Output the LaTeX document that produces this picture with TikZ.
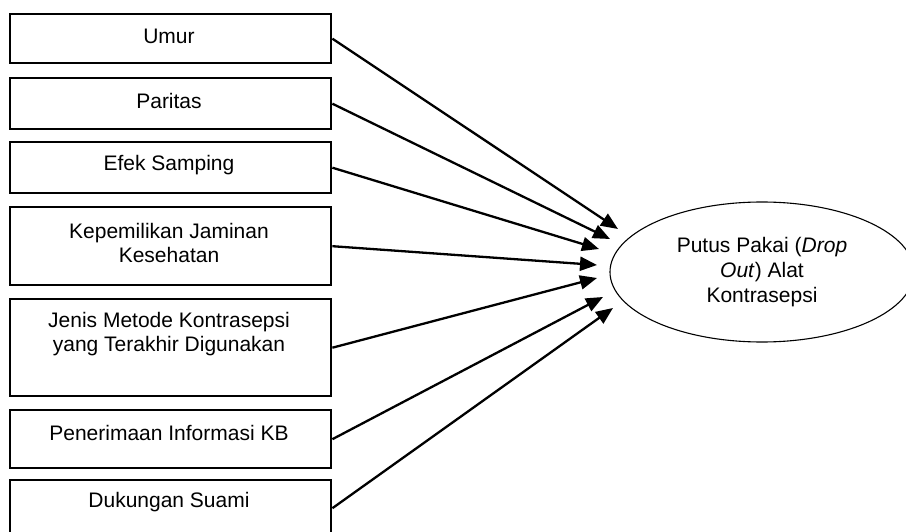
\documentclass[tikz,border=0pt]{standalone}
\usepackage{fontspec}
\setmainfont{Liberation Sans}
\usetikzlibrary{shapes.geometric,arrows.meta}
\begin{document}
\begin{tikzpicture}[x=1pt,y=-1pt,
  varbox/.style={draw,line width=2.4pt,rectangle,minimum width=321pt,inner sep=0pt,anchor=north west},
  lbl/.style={font=\fontsize{21}{24}\selectfont,align=center,inner sep=0pt},
  conn/.style={line width=2.3pt,-{Triangle[length=17pt,width=14pt]}},
  outcome/.style={draw,ellipse,line width=1.1pt,minimum width=304pt,minimum height=140pt,inner sep=0pt,
     font=\fontsize{21}{25}\selectfont,align=center}]
\useasboundingbox (0,0) rectangle (906,532);
\clip (0,0) rectangle (906,532);
\node[varbox,minimum height=49pt] (b1) at (9,13) {};
\node[varbox,minimum height=51pt] (b2) at (9,77) {};
\node[varbox,minimum height=51pt] (b3) at (9,141) {};
\node[varbox,minimum height=78pt] (b4) at (9,206) {};
\node[varbox,minimum height=97pt] (b5) at (9,298) {};
\node[varbox,minimum height=58pt] (b6) at (9,409) {};
\node[varbox,minimum height=58pt] (b7) at (9,479) {};
\node[lbl] (l1) at (169,36) {Umur};
\node[lbl] (l2) at (169,101) {Paritas};
\node[lbl] (l3) at (169,165) {Efek Samping};
\node[lbl] (l4) at (169,243) {Kepemilikan Jaminan\\Kesehatan};
\node[lbl] (l5) at (169,334) {Jenis Metode Kontrasepsi\\yang Terakhir Digunakan};
\node[lbl] (l6) at (169,433) {Penerimaan Informasi KB};
\node[lbl] (l7) at (169,502) {Dukungan Suami};
\node[outcome] (y) at (762,272) {Putus Pakai (\textit{Drop}\\\textit{Out}) Alat\\Kontrasepsi};
\coordinate (t1) at (618,229);
\coordinate (t2) at (610,239);
\coordinate (t3) at (599,249);
\coordinate (t4) at (597,265);
\coordinate (t5) at (597,278);
\coordinate (t6) at (603,297);
\coordinate (t7) at (613,308);
\draw[conn] (b1.east) -- (t1);
\draw[conn] (b2.east) -- (t2);
\draw[conn] (b3.east) -- (t3);
\draw[conn] (b4.east) -- (t4);
\draw[conn] (b5.east) -- (t5);
\draw[conn] (b6.east) -- (t6);
\draw[conn] (b7.east) ++(0,-1) -- (t7);
\end{tikzpicture}
\end{document}
